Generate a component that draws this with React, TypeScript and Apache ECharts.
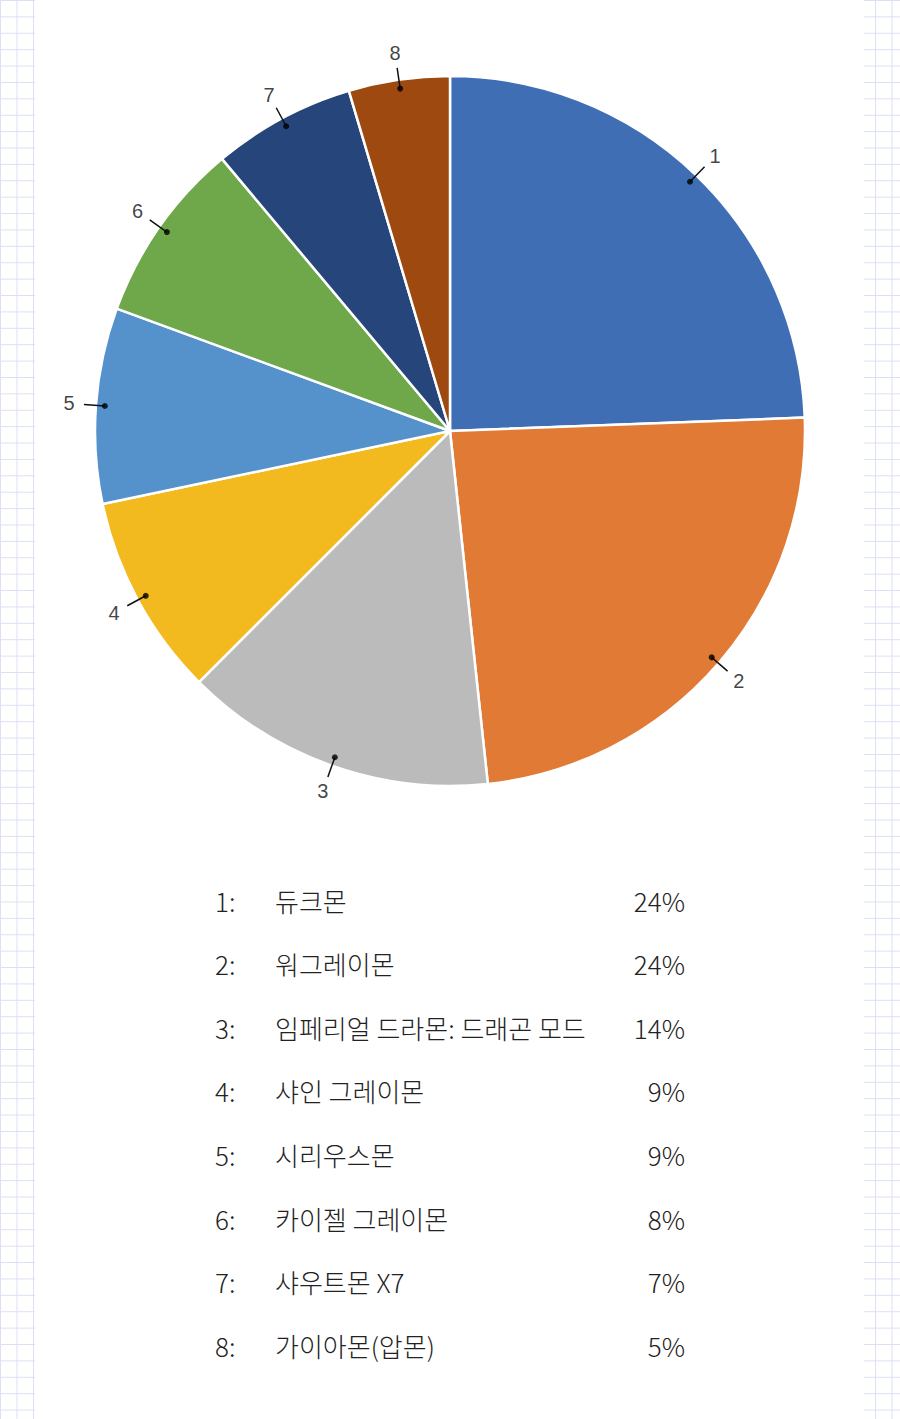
import { useEffect, useRef } from "react";
import * as echarts from "echarts";

const CATEGORIES = [
  "듀크몬",
  "워그레이몬",
  "임페리얼 드라몬: 드래곤 모드",
  "샤인 그레이몬",
  "시리우스몬",
  "카이젤 그레이몬",
  "샤우트몬 X7",
  "가이아몬(압몬)",
];
const SHARES = [24.4, 23.9, 14.2, 9.2, 8.9, 8.3, 6.5, 4.6];
const COLORS = ["#3F6EB4", "#E07A35", "#BBBBBB", "#F2BA1E", "#5592CB", "#6FA84A", "#26457A", "#9D490F"];

const CENTER = [450, 431];
const PIE_R = 355;
const DOT_R = 346;
const LINE_END_R = 367;
const LABEL_R = 382;

const GRID_BG: React.CSSProperties = {
  position: "absolute",
  top: 0,
  height: "1419px",
  backgroundImage:
    "linear-gradient(to right, #dae0f4 1px, transparent 1px), linear-gradient(to bottom, #dae0f4 1px, transparent 1px)",
  backgroundSize: "16.5px 16.4px",
};

export default function App() {
  const chartRef = useRef<HTMLDivElement>(null);

  useEffect(() => {
    if (!chartRef.current) return;
    const chart = echarts.init(chartRef.current, null, { renderer: "svg" });

    const total = SHARES.reduce((a, b) => a + b, 0);
    const mids: number[] = [];
    let acc = 0;
    SHARES.forEach((v) => {
      mids.push(acc + v / 2);
      acc += v;
    });

    // short radial leader lines, one per slice
    const leaderLines = mids.map((m) => ({
      type: "line",
      coordinateSystem: "polar",
      data: [
        [DOT_R, m],
        [LINE_END_R, m],
      ],
      symbol: "none",
      silent: true,
      lineStyle: { color: "#111", width: 1.5 },
      z: 3,
    }));

    const rowTop = 900;
    const rowGap = 63.6;
    const tableFont = '"Noto Sans CJK KR", "Noto Sans", sans-serif';
    const tableText: any[] = [];
    CATEGORIES.forEach((name, i) => {
      const y = rowTop + i * rowGap;
      const common = { fontSize: 26, fontFamily: tableFont, fill: "#222", fontWeight: 300, verticalAlign: "middle" };
      tableText.push({ type: "text", x: 215, y, style: { ...common, text: `${i + 1}:`, align: "left" } });
      tableText.push({ type: "text", x: 275, y, style: { ...common, text: name, align: "left" } });
      tableText.push({
        type: "text",
        x: 685,
        y,
        style: { ...common, text: `${Math.round(SHARES[i])}%`, align: "right" },
      });
    });

    chart.setOption({
      animation: false,
      polar: { center: CENTER, radius: 400 },
      radiusAxis: { type: "value", min: 0, max: 400, show: false },
      angleAxis: { type: "value", min: 0, max: total, startAngle: 90, clockwise: true, show: false },
      graphic: tableText,
      series: [
        {
          type: "pie",
          center: CENTER,
          radius: PIE_R,
          startAngle: 90,
          clockwise: true,
          silent: true,
          label: { show: false },
          labelLine: { show: false },
          itemStyle: { borderColor: "#fff", borderWidth: 2.5 },
          data: SHARES.map((v, i) => ({
            name: CATEGORIES[i],
            value: v,
            itemStyle: { color: COLORS[i] },
          })),
          z: 1,
        },
        ...leaderLines,
        {
          type: "scatter",
          coordinateSystem: "polar",
          symbolSize: 6,
          silent: true,
          itemStyle: { color: "#000" },
          data: mids.map((m) => [DOT_R, m]),
          z: 4,
        },
        {
          type: "scatter",
          coordinateSystem: "polar",
          symbolSize: 1,
          silent: true,
          itemStyle: { color: "rgba(0,0,0,0)" },
          label: {
            show: true,
            position: "inside",
            formatter: (p: any) => String(p.dataIndex + 1),
            fontSize: 20,
            fontFamily: '"Liberation Sans", Arial, sans-serif',
            color: "#111",
            textBorderWidth: 0,
          },
          data: mids.map((m) => [LABEL_R, m]),
          z: 4,
        },
      ],
    });

    return () => chart.dispose();
  }, []);

  return (
    <div style={{ position: "absolute", left: 0, top: 0, width: "900px", height: "1419px", background: "#fff" }}>
      <div style={{ ...GRID_BG, left: 0, width: "35px" }} />
      <div style={{ ...GRID_BG, left: "864px", width: "36px", backgroundPosition: "11px 0" }} />
      <div ref={chartRef} style={{ position: "absolute", left: 0, top: 0, width: "900px", height: "1419px" }} />
    </div>
  );
}
